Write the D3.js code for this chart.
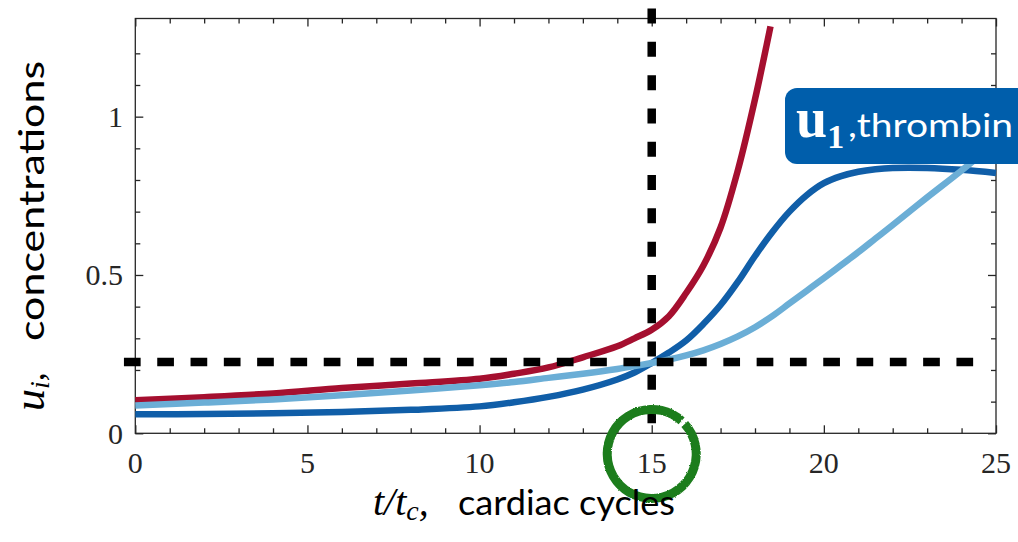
<!DOCTYPE html>
<html>
<head>
<meta charset="utf-8">
<script src="https://cdn.jsdelivr.net/npm/d3@7"></script>
<style>
  body { margin: 0; background: #fff; }
  svg { display: block; }
</style>
</head>
<body>
<svg id="chart" width="1018" height="542"></svg>
<script>
// time in cardiac cycles
var tGrid = [0, 2, 4, 6, 8, 10, 11, 12, 13, 14, 14.5, 15, 15.5, 16, 16.5, 17, 17.5, 18, 18.5, 19, 19.5, 20, 20.5, 21, 21.5, 22, 23, 24, 25];
// u1, thrombin (dark blue)
var thrombin = [0.060, 0.061, 0.063, 0.067, 0.074, 0.085, 0.098, 0.115, 0.138, 0.170, 0.192, 0.222, 0.255, 0.293, 0.345, 0.405, 0.478, 0.560, 0.635, 0.700, 0.752, 0.790, 0.812, 0.826, 0.834, 0.838, 0.838, 0.832, 0.822];
// light blue species
var lightU = [0.088, 0.097, 0.107, 0.120, 0.135, 0.152, 0.162, 0.175, 0.188, 0.203, 0.212, 0.222, 0.233, 0.246, 0.262, 0.282, 0.306, 0.335, 0.370, 0.410, 0.450, 0.490, 0.531, 0.572, 0.615, 0.658, 0.745, 0.830, 0.920];
// red species (leaves the top of the axes)
var redT = [0, 2, 4, 6, 8, 10, 11, 12, 13, 14, 14.5, 15, 15.5, 16, 16.5, 17, 17.5, 18, 18.45];
var redU = [0.104, 0.114, 0.126, 0.143, 0.157, 0.172, 0.188, 0.208, 0.240, 0.275, 0.300, 0.327, 0.370, 0.443, 0.530, 0.650, 0.830, 1.055, 1.285];

var xTicks = [0, 5, 10, 15, 20, 25];
var yTicks = [0, 0.5, 1];
var yTickLabels = ["0", "0.5", "1"];
var threshold = 0.225;   // horizontal dashed line
var tCritical = 15;      // vertical dashed line

var axisColor = "#262626";
var red = "#a50f2f", darkBlue = "#105ea8", lightBlue = "#6baed6";

var svg = d3.select("#chart");
var x = d3.scaleLinear().domain([0, 25]).range([135.3, 996]);
var y = d3.scaleLinear().domain([0, 1.31]).range([433.3, 18.5]);

// frame
svg.append("rect")
  .attr("x", x(0)).attr("y", y(1.31))
  .attr("width", x(25) - x(0)).attr("height", y(0) - y(1.31))
  .attr("fill", "none").attr("stroke", axisColor).attr("stroke-width", 1.3);

var xMinor = d3.range(1, 25).filter(function(d) { return d % 5 !== 0; });
var yMinor = d3.range(1, 13).filter(function(d) { return d % 5 !== 0; }).map(function(d) { return d / 10; });

function ticks(g) {
  g.selectAll(".domain").remove();
  g.selectAll("line").attr("stroke", axisColor).attr("stroke-width", 1.3);
  g.selectAll("text").remove();
}
svg.append("g").attr("transform", "translate(0," + y(0) + ")")
  .call(d3.axisBottom(x).tickValues(xTicks).tickSize(-8)).call(ticks);
svg.append("g").attr("transform", "translate(0," + y(0) + ")")
  .call(d3.axisBottom(x).tickValues(xMinor).tickSize(-5)).call(ticks);
svg.append("g").attr("transform", "translate(0," + y(1.31) + ")")
  .call(d3.axisTop(x).tickValues(xTicks).tickSize(-8)).call(ticks);
svg.append("g").attr("transform", "translate(0," + y(1.31) + ")")
  .call(d3.axisTop(x).tickValues(xMinor).tickSize(-5)).call(ticks);
svg.append("g").attr("transform", "translate(" + x(0) + ",0)")
  .call(d3.axisLeft(y).tickValues(yTicks).tickSize(-8)).call(ticks);
svg.append("g").attr("transform", "translate(" + x(0) + ",0)")
  .call(d3.axisLeft(y).tickValues(yMinor).tickSize(-5)).call(ticks);
svg.append("g").attr("transform", "translate(" + x(25) + ",0)")
  .call(d3.axisRight(y).tickValues(yTicks).tickSize(-8)).call(ticks);
svg.append("g").attr("transform", "translate(" + x(25) + ",0)")
  .call(d3.axisRight(y).tickValues(yMinor).tickSize(-5)).call(ticks);

// tick labels
svg.append("g").selectAll("text").data(xTicks).join("text")
  .attr("x", function(d) { return x(d); }).attr("y", 473)
  .attr("text-anchor", "middle")
  .attr("font-family", "'Liberation Serif', serif").attr("font-size", 30)
  .attr("fill", axisColor)
  .text(function(d) { return d; });
svg.append("g").selectAll("text").data(yTicks).join("text")
  .attr("x", 123).attr("y", function(d) { return y(d); }).attr("dy", "0.34em")
  .attr("text-anchor", "end")
  .attr("font-family", "'Liberation Serif', serif").attr("font-size", 30)
  .attr("fill", axisColor)
  .text(function(d, i) { return yTickLabels[i]; });

// curves
var line = d3.line().x(function(d) { return x(d[0]); }).y(function(d) { return y(d[1]); })
  .curve(d3.curveCatmullRom.alpha(0.5));

svg.append("path").datum(d3.zip(tGrid, thrombin))
  .attr("d", line).attr("fill", "none").attr("stroke", darkBlue).attr("stroke-width", 6.5);
svg.append("path").datum(d3.zip(redT, redU))
  .attr("d", line).attr("fill", "none").attr("stroke", red).attr("stroke-width", 6.5);
svg.append("path").datum(d3.zip(tGrid, lightU))
  .attr("d", line).attr("fill", "none").attr("stroke", lightBlue).attr("stroke-width", 6.5);

// dashed guide lines
svg.append("line")
  .attr("x1", x(-0.33)).attr("x2", x(24.35))
  .attr("y1", y(threshold)).attr("y2", y(threshold))
  .attr("stroke", "#000").attr("stroke-width", 8.5)
  .attr("stroke-dasharray", "16.7,16.6");
svg.append("line")
  .attr("x1", x(tCritical)).attr("x2", x(tCritical))
  .attr("y1", y(0.032)).attr("y2", y(1.343))
  .attr("stroke", "#000").attr("stroke-width", 8.5)
  .attr("stroke-dasharray", "15,18.3");

// green hand-drawn circle around t = 15
var defs = svg.append("defs");
var f = defs.append("filter").attr("id", "rough").attr("x", "-20%").attr("y", "-20%").attr("width", "140%").attr("height", "140%");
f.append("feTurbulence").attr("type", "fractalNoise").attr("baseFrequency", 1.6).attr("numOctaves", 1).attr("result", "noise");
f.append("feDisplacementMap").attr("in", "SourceGraphic").attr("in2", "noise").attr("scale", 2.5)
  .attr("xChannelSelector", "R").attr("yChannelSelector", "G");
var ring = d3.arc().innerRadius(40).outerRadius(49)
  .startAngle(Math.PI / 4 + 0.05).endAngle(Math.PI / 4 - 0.05 + 2 * Math.PI);
svg.append("path")
  .attr("transform", "translate(" + x(tCritical) + "," + y(-0.065) + ")")
  .attr("d", ring())
  .attr("fill", "#1f7d1f").attr("filter", "url(#rough)");

// thrombin label box
svg.append("rect")
  .attr("x", 785).attr("y", 88).attr("width", 260).attr("height", 76).attr("rx", 12)
  .attr("fill", "#005eab");
var lab = svg.append("text").attr("x", 796).attr("y", 137).attr("fill", "#fff");
lab.append("tspan").attr("font-family", "'Liberation Serif', serif").attr("font-weight", "bold")
  .attr("font-size", 56).text("u");
lab.append("tspan").attr("font-family", "'Liberation Serif', serif").attr("font-weight", "bold")
  .attr("font-size", 34).attr("dy", 11).text("1");
svg.append("text").attr("x", 848).attr("y", 137).attr("fill", "#fff")
  .attr("font-family", "Lato, 'Open Sans', sans-serif").attr("font-size", 32)
  .attr("textLength", 165).attr("lengthAdjust", "spacingAndGlyphs")
  .text(",thrombin");

// x axis label
var xl = svg.append("text").attr("x", 373).attr("y", 515).attr("fill", "#000");
xl.append("tspan").attr("font-family", "'Liberation Serif', serif").attr("font-style", "italic")
  .attr("font-size", 40).text("t/t");
xl.append("tspan").attr("font-family", "'Liberation Serif', serif").attr("font-style", "italic")
  .attr("font-size", 28).attr("dy", 5).text("c");
xl.append("tspan").attr("font-family", "'Liberation Serif', serif").attr("font-style", "italic")
  .attr("font-size", 40).attr("dy", -5).text(",");
svg.append("text").attr("x", 458).attr("y", 515).attr("fill", "#000")
  .attr("font-family", "Lato, 'Open Sans', sans-serif").attr("font-size", 35)
  .attr("textLength", 217).attr("lengthAdjust", "spacingAndGlyphs")
  .text("cardiac cycles");

// y axis label
var yg = svg.append("g").attr("transform", "translate(44,411) rotate(-90)");
var yl = yg.append("text").attr("x", 0).attr("y", 0).attr("fill", "#000");
yl.append("tspan").attr("font-family", "'Liberation Serif', serif").attr("font-style", "italic")
  .attr("font-size", 44).text("u");
yl.append("tspan").attr("font-family", "'Liberation Serif', serif").attr("font-style", "italic")
  .attr("font-size", 28).attr("dy", 5).text("i");
yl.append("tspan").attr("font-family", "'Liberation Serif', serif").attr("font-style", "italic")
  .attr("font-size", 36).attr("dy", -5).text(",");
yg.append("text").attr("x", 70).attr("y", 0).attr("fill", "#000")
  .attr("font-family", "Lato, 'Open Sans', sans-serif").attr("font-size", 34)
  .attr("textLength", 280).attr("lengthAdjust", "spacingAndGlyphs")
  .text("concentrations");
</script>
</body>
</html>
